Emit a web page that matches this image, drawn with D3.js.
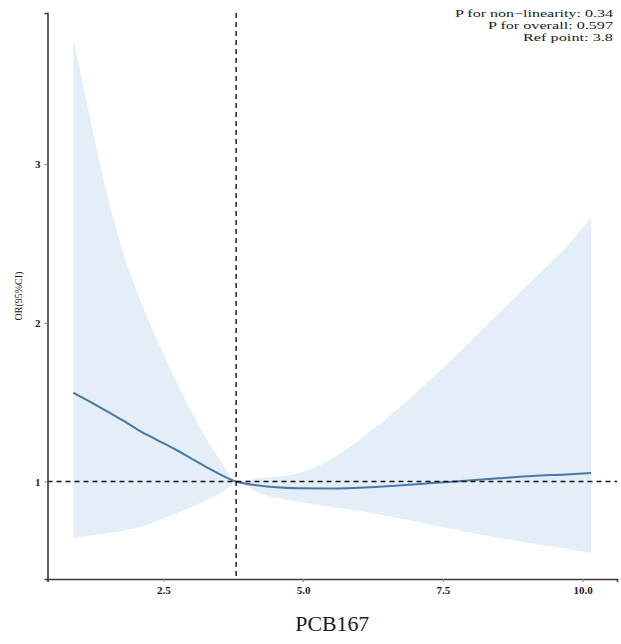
<!DOCTYPE html>
<html>
<head>
<meta charset="utf-8">
<script src="https://cdn.jsdelivr.net/npm/d3@7/dist/d3.min.js"></script>
<style>
  html, body { margin: 0; padding: 0; background: #ffffff; }
  svg { display: block; }
  text { font-family: "Liberation Serif", "DejaVu Serif", serif; fill: #1a1a1a; }
</style>
</head>
<body>
<svg id="chart" width="621" height="644"></svg>
<script>
// ---- data ----
const xValues     = [0.89, 1.2, 1.5, 1.8, 2.1, 2.4, 2.7, 3.0, 3.3, 3.6, 3.8, 4.2, 4.9, 5.5, 6.1, 6.7, 7.3, 7.9, 8.5, 9.1, 9.7, 10.15];
const orValues    = [1.56, 1.50, 1.44, 1.38, 1.315, 1.26, 1.205, 1.145, 1.085, 1.03, 1.0, 0.975, 0.958, 0.956, 0.962, 0.975, 0.99, 1.005, 1.02, 1.035, 1.045, 1.054];
const upperValues = [3.79, 3.27, 2.80, 2.42, 2.13, 1.88, 1.65, 1.44, 1.25, 1.09, 1.0, 1.02, 1.05, 1.14, 1.29, 1.46, 1.65, 1.85, 2.06, 2.27, 2.475, 2.665];
const lowerValues = [0.643, 0.66, 0.675, 0.692, 0.715, 0.753, 0.796, 0.84, 0.888, 0.945, 1.0, 0.93, 0.875, 0.84, 0.81, 0.77, 0.728, 0.685, 0.645, 0.61, 0.578, 0.548];
const xTicks = [2.5, 5.0, 7.5, 10.0];
const xTickLabels = ["2.5", "5.0", "7.5", "10.0"];
const yTicks = [1, 2, 3];
const yTickLabels = ["1", "2", "3"];
const refPoint = 3.8;
const refOR = 1;
const annotations = ["P for non\u2212linearity:  0.34", "P for overall:  0.597", "Ref point:  3.8"];
const xTitle = "PCB167";
const yTitle = "OR(95%CI)";

// ---- layout ----
const svg = d3.select("#chart");
const mLeft = 47.5, mRight = 617, mTop = 13, mBottom = 579;

const xMin = d3.min(xValues), xMax = d3.max(xValues);
const xPad = (xMax - xMin) * 0.05;
const yMin = d3.min(lowerValues), yMax = d3.max(upperValues);
const yPad = (yMax - yMin) * 0.05;

const x = d3.scaleLinear().domain([xMin - xPad, xMax + xPad]).range([mLeft, mRight]);
const y = d3.scaleLinear().domain([yMin - yPad, yMax + yPad]).range([mBottom, mTop]);

const rows = xValues.map((v, i) => ({ x: v, or: orValues[i], lo: lowerValues[i], hi: upperValues[i] }));

// ribbon
const area = d3.area()
  .x(d => x(d.x))
  .y0(d => y(d.lo))
  .y1(d => y(d.hi))
  .curve(d3.curveMonotoneX);
svg.append("path")
  .datum(rows)
  .attr("d", area)
  .attr("fill", "#e4eef8");

// fitted line
const line = d3.line()
  .x(d => x(d.x))
  .y(d => y(d.or))
  .curve(d3.curveMonotoneX);
svg.append("path")
  .datum(rows)
  .attr("d", line)
  .attr("fill", "none")
  .attr("stroke", "#4a77a6")
  .attr("stroke-width", 2);

// reference lines
svg.append("line")
  .attr("x1", x.range()[0]).attr("x2", x.range()[1])
  .attr("y1", y(refOR)).attr("y2", y(refOR))
  .attr("stroke", "#111").attr("stroke-width", 1.4)
  .attr("stroke-dasharray", "5,4");
svg.append("line")
  .attr("x1", x(refPoint)).attr("x2", x(refPoint))
  .attr("y1", y.range()[1]).attr("y2", y.range()[0])
  .attr("stroke", "#111").attr("stroke-width", 1.4)
  .attr("stroke-dasharray", "5,4");

// axes
const xAxis = d3.axisBottom(x).tickValues(xTicks).tickFormat((d, i) => xTickLabels[i]).tickSize(3).tickPadding(4);
const yAxis = d3.axisLeft(y).tickValues(yTicks).tickFormat((d, i) => yTickLabels[i]).tickSize(3).tickPadding(4);

const gx = svg.append("g").attr("transform", `translate(0,${mBottom})`).call(xAxis);
const gy = svg.append("g").attr("transform", `translate(${mLeft},0)`).call(yAxis);
[gx, gy].forEach(g => {
  g.select(".domain").attr("stroke", "#3a3a3a").attr("stroke-width", 1.6);
  g.selectAll(".tick line").attr("stroke", "#888").attr("stroke-width", 1);
  g.selectAll(".tick text")
    .attr("fill", "#222")
    .style("font-family", "'Liberation Serif', serif")
    .style("font-weight", "bold")
    .style("font-size", "11px");
});

// axis titles
svg.append("text")
  .attr("x", (mLeft + mRight) / 2)
  .attr("y", 631)
  .attr("text-anchor", "middle")
  .style("font-size", "22px")
  .attr("textLength", 74)
  .attr("lengthAdjust", "spacingAndGlyphs")
  .text(xTitle);

svg.append("text")
  .attr("transform", `translate(22,${(mTop + mBottom) / 2}) rotate(-90)`)
  .attr("text-anchor", "middle")
  .style("font-size", "10px")
  .text(yTitle);

// annotation
const annWidths = [158, 125, 90];
svg.append("g").selectAll("text")
  .data(annotations)
  .join("text")
  .attr("x", 613)
  .attr("y", (d, i) => 17 + i * 12)
  .attr("text-anchor", "end")
  .style("font-size", "11px")
  .attr("textLength", (d, i) => annWidths[i])
  .attr("lengthAdjust", "spacingAndGlyphs")
  .text(d => d);
</script>
</body>
</html>
